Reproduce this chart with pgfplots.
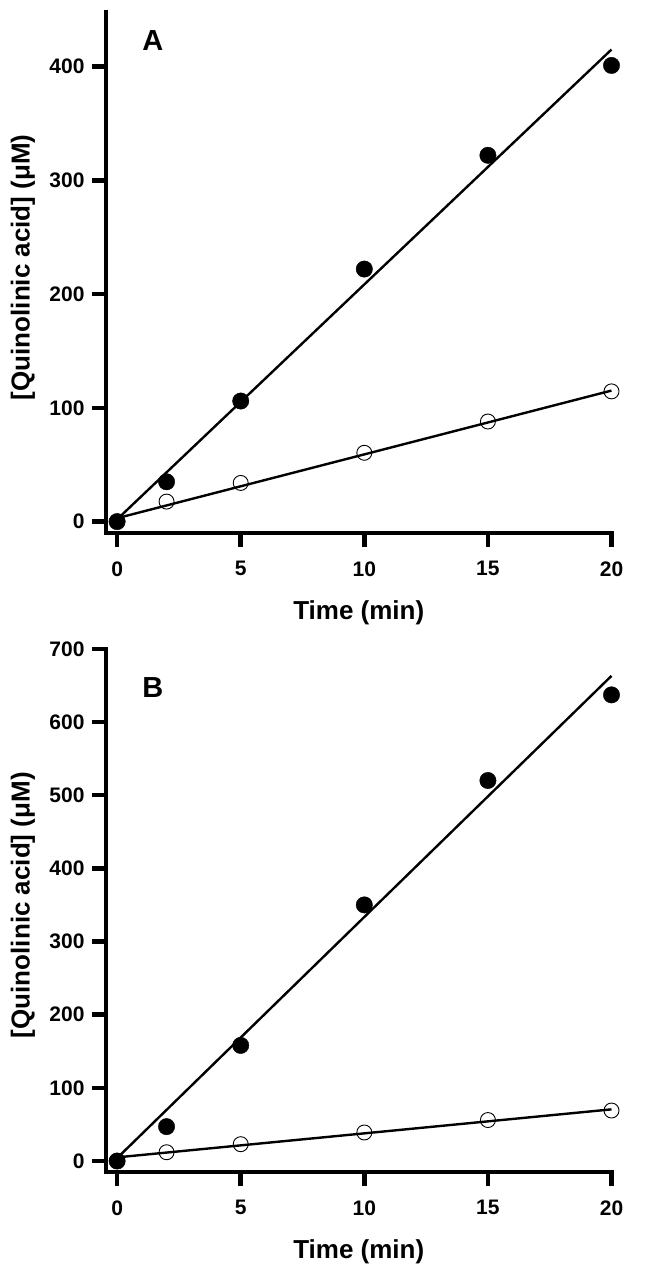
\documentclass[border=0pt]{standalone}
\usepackage{pgfplots}
\pgfplotsset{compat=1.18}
\usepackage{fontspec}
\setmainfont{Liberation Sans}
\begin{document}
\begin{tikzpicture}
\useasboundingbox (0pt,0pt) rectangle (648pt,1271pt);
\pgfplotsset{
 myaxis/.style={
  scale only axis, clip=false,
  axis x line*=bottom, axis y line*=left,
  axis line style={-, line width=4.5pt, line cap=rect},
  tick style={line width=4.5pt, black},
  tick align=outside, major tick length=14pt,
  xtick={0,5,10,15,20},
  /pgf/number format/assume math mode=true,
  ticklabel style={font=\bfseries\fontsize{21}{25}\selectfont},
  xticklabel style={yshift=-11pt},
  yticklabel style={xshift=-4pt},
  label style={font=\bfseries\fontsize{26}{30}\selectfont},
  xlabel={Time (min)}, ylabel={[Quinolinic acid] (μM)},
  xlabel style={at={(axis description cs:0.5,0)}, anchor=center, yshift=-80pt},
  ylabel style={at={(axis description cs:-0.1642,0.51)}, anchor=center, rotate=0},
  xmin=-0.45, xmax=20, width=505.5pt, anchor=south west,
 },
 fitline/.style={black, line width=2.4pt, no marks},
 filled/.style={only marks, mark=*, mark size=8.2pt, mark options={fill=black, draw=black}},
 open/.style={only marks, mark=o, mark size=7.5pt, mark options={draw=black, line width=0.9pt, fill=none}},
}
% Panel A
\begin{axis}[myaxis, at={(106pt,738pt)}, height=521pt, ymin=-10, ymax=448, ytick={0,100,200,300,400}]
\addplot[fitline] coordinates {(0,2) (20,415)};
\addplot[fitline] coordinates {(0,3) (20,115.2)};
\addplot[open] coordinates {(0,0) (2,17.6) (5,34) (10,60.5) (15,88) (20,114.5)};
\addplot[filled] coordinates {(0,0) (2,35) (5,106) (10,222) (15,322) (20,401)};
\node[font=\bfseries\fontsize{29}{33}\selectfont] at (axis cs:1.45,422.7) {A};
\end{axis}
% Panel B
\begin{axis}[myaxis, at={(106pt,99pt)}, height=523.2pt, ymin=-15, ymax=700, ytick={0,100,200,300,400,500,600,700}]
\addplot[fitline] coordinates {(0,4) (20,663)};
\addplot[fitline] coordinates {(0,5) (20,70.6)};
\addplot[open] coordinates {(0,0) (2,12) (5,23) (10,39) (15,56) (20,69)};
\addplot[filled] coordinates {(0,0) (2,47) (5,158) (10,350) (15,520) (20,637)};
\node[font=\bfseries\fontsize{29}{33}\selectfont] at (axis cs:1.45,647) {B};
\end{axis}
\end{tikzpicture}
\end{document}
